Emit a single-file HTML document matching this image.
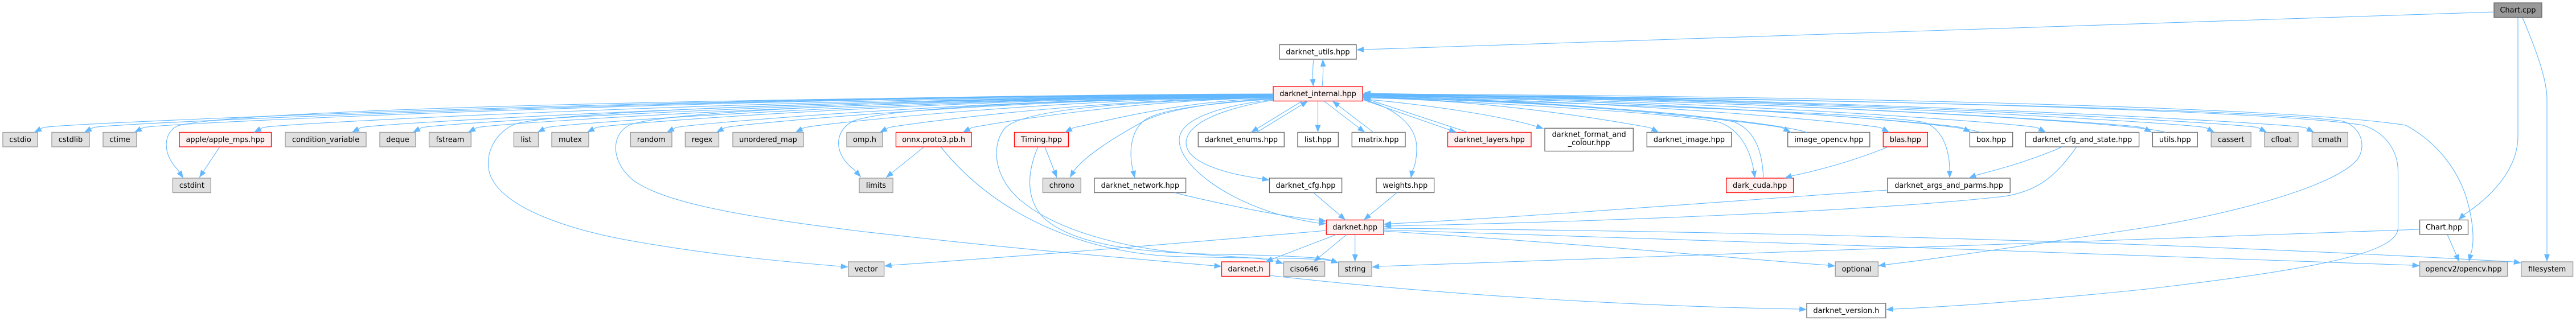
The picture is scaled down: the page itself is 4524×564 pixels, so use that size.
<!DOCTYPE html>
<html>
<head>
<meta charset="utf-8">
<style>
html,body{margin:0;padding:0;background:#ffffff;width:4524px;height:564px;overflow:hidden}
svg{display:block}
.g{fill:#E0E0E0;stroke:#999999;stroke-width:1.3}
.w{fill:#FFFFFF;stroke:#666666;stroke-width:1.3}
.r{fill:#FFF0F0;stroke:#FF0000;stroke-width:1.3}
.c{fill:#999999;stroke:#666666;stroke-width:1.3}
text{font-family:"DejaVu Sans","Liberation Sans",sans-serif;font-size:12.9px;text-anchor:middle;fill:#000000}
.e path{fill:none;stroke:#63B8FF;stroke-width:1.1;marker-end:url(#ah)}
</style>
</head>
<body>
<svg width="4524" height="564" viewBox="0 0 4524 564" xmlns="http://www.w3.org/2000/svg">
<defs>
<marker id="ah" viewBox="0 0 13 10" refX="13" refY="5" markerWidth="13" markerHeight="10" orient="auto" markerUnits="userSpaceOnUse">
<path d="M0,0 L13,5 L0,10 z" fill="#63B8FF" stroke="none"/>
</marker>
</defs>
<rect x="0" y="0" width="4524" height="564" fill="#ffffff"/>

<!-- Nodes -->
<g>
<rect class="c" x="4380" y="5" width="84" height="25.5"/><text x="4422" y="22.05">Chart.cpp</text>
<rect class="w" x="2247" y="78.5" width="135" height="25.5"/><text x="2314.5" y="95.55">darknet_utils.hpp</text>
<rect class="r" x="2236" y="152" width="157" height="25.5"/><text x="2314.5" y="169.05">darknet_internal.hpp</text>

<rect class="g" x="5" y="232.5" width="61" height="25.5"/><text x="35.5" y="249.55">cstdio</text>
<rect class="g" x="91" y="232.5" width="66" height="25.5"/><text x="124" y="249.55">cstdlib</text>
<rect class="g" x="181" y="232.5" width="59" height="25.5"/><text x="210.5" y="249.55">ctime</text>
<rect class="r" x="315" y="232.5" width="161.5" height="25.5"/><text x="395.75" y="249.55">apple/apple_mps.hpp</text>
<rect class="g" x="501" y="232.5" width="142" height="25.5"/><text x="572" y="249.55">condition_variable</text>
<rect class="g" x="667" y="232.5" width="63" height="25.5"/><text x="698.5" y="249.55">deque</text>
<rect class="g" x="753.6" y="232.5" width="73.7" height="25.5"/><text x="790.45" y="249.55">fstream</text>
<rect class="g" x="902.4" y="232.5" width="43.1" height="25.5"/><text x="923.95" y="249.55">list</text>
<rect class="g" x="969" y="232.5" width="65" height="25.5"/><text x="1001.5" y="249.55">mutex</text>
<rect class="g" x="1107.4" y="232.5" width="72.6" height="25.5"/><text x="1143.7" y="249.55">random</text>
<rect class="g" x="1203.4" y="232.5" width="59.1" height="25.5"/><text x="1232.95" y="249.55">regex</text>
<rect class="g" x="1287" y="232.5" width="124" height="25.5"/><text x="1349" y="249.55">unordered_map</text>
<rect class="g" x="1487" y="232.5" width="63" height="25.5"/><text x="1518.5" y="249.55">omp.h</text>
<rect class="r" x="1573.5" y="232.5" width="132.5" height="25.5"/><text x="1639.75" y="249.55">onnx.proto3.pb.h</text>
<rect class="r" x="1781.5" y="232.5" width="95" height="25.5"/><text x="1829" y="249.55">Timing.hpp</text>
<rect class="w" x="2104.3" y="232.5" width="151" height="25.5"/><text x="2179.8" y="249.55">darknet_enums.hpp</text>
<rect class="w" x="2279" y="232.5" width="71.3" height="25.5"/><text x="2314.65" y="249.55">list.hpp</text>
<rect class="w" x="2374.3" y="232.5" width="93.7" height="25.5"/><text x="2421.15" y="249.55">matrix.hpp</text>
<rect class="r" x="2542.5" y="232.5" width="146.5" height="25.5"/><text x="2615.75" y="249.55">darknet_layers.hpp</text>
<rect class="w" x="2713" y="225.3" width="155.3" height="40.2"/><text x="2790.65" y="240.7">darknet_format_and</text><text x="2790.65" y="255.2">_colour.hpp</text>
<rect class="w" x="2892.3" y="232.5" width="148.4" height="25.5"/><text x="2966.5" y="249.55">darknet_image.hpp</text>
<rect class="w" x="3139.7" y="232.5" width="144.1" height="25.5"/><text x="3211.75" y="249.55">image_opencv.hpp</text>
<rect class="r" x="3307.3" y="232.5" width="78" height="25.5"/><text x="3346.3" y="249.55">blas.hpp</text>
<rect class="w" x="3459.4" y="232.5" width="75.3" height="25.5"/><text x="3497.05" y="249.55">box.hpp</text>
<rect class="w" x="3557.4" y="232.5" width="199.2" height="25.5"/><text x="3657" y="249.55">darknet_cfg_and_state.hpp</text>
<rect class="w" x="3780.4" y="232.5" width="78.8" height="25.5"/><text x="3819.8" y="249.55">utils.hpp</text>
<rect class="g" x="3883.3" y="232.5" width="69.9" height="25.5"/><text x="3918.25" y="249.55">cassert</text>
<rect class="g" x="3977" y="232.5" width="59" height="25.5"/><text x="4006.5" y="249.55">cfloat</text>
<rect class="g" x="4060.4" y="232.5" width="62.9" height="25.5"/><text x="4091.85" y="249.55">cmath</text>

<rect class="g" x="303.4" y="313" width="66.9" height="25.5"/><text x="336.85" y="330.05">cstdint</text>
<rect class="g" x="1509" y="313" width="59.2" height="25.5"/><text x="1538.6" y="330.05">limits</text>
<rect class="g" x="1831.4" y="313" width="66.9" height="25.5"/><text x="1864.85" y="330.05">chrono</text>
<rect class="w" x="1922" y="313" width="160.6" height="25.5"/><text x="2002.3" y="330.05">darknet_network.hpp</text>
<rect class="w" x="2229.5" y="313" width="127.1" height="25.5"/><text x="2293.05" y="330.05">darknet_cfg.hpp</text>
<rect class="w" x="2417" y="313" width="101.6" height="25.5"/><text x="2467.8" y="330.05">weights.hpp</text>
<rect class="r" x="3031.7" y="313" width="117.9" height="25.5"/><text x="3090.65" y="330.05">dark_cuda.hpp</text>
<rect class="w" x="3314.8" y="313" width="215.4" height="25.5"/><text x="3422.5" y="330.05">darknet_args_and_parms.hpp</text>

<rect class="r" x="2329.3" y="386.5" width="100.8" height="25.5"/><text x="2379.7" y="403.55">darknet.hpp</text>
<rect class="w" x="4249.6" y="386.5" width="84.9" height="25.5"/><text x="4292.05" y="403.55">Chart.hpp</text>

<rect class="g" x="1489.7" y="460" width="63" height="25.5"/><text x="1521.2" y="477.05">vector</text>
<rect class="r" x="2145.5" y="460" width="84.4" height="25.5"/><text x="2187.7" y="477.05">darknet.h</text>
<rect class="g" x="2254.4" y="460" width="72.2" height="25.5"/><text x="2290.5" y="477.05">ciso646</text>
<rect class="g" x="2350.6" y="460" width="58.5" height="25.5"/><text x="2379.85" y="477.05">string</text>
<rect class="g" x="3223.2" y="460" width="75.2" height="25.5"/><text x="3260.8" y="477.05">optional</text>
<rect class="g" x="4249.6" y="460" width="154" height="25.5"/><text x="4326.6" y="477.05">opencv2/opencv.hpp</text>
<rect class="g" x="4427.8" y="460" width="90.8" height="25.5"/><text x="4473.2" y="477.05">filesystem</text>

<rect class="w" x="3173" y="533" width="138.8" height="25.5"/><text x="3242.4" y="550.05">darknet_version.h</text>
</g>

<!-- Edges -->
<g class="e">
<!-- left fan -->
<path d="M2236,165 C1257,168 126,215 76,224 L60,232.5"/>
<path d="M2236,165.5 C1296,168.5 214,215 164,224 L148,232.5"/>
<path d="M2236,166 C1336,169 302,215 252,224 L236,232.5"/>
<path d="M2236,166.5 C1430,169.5 512,215 462,224 L446,232.5"/>
<path d="M2236,167 C1508,170 684,215 634,224 L618,232.5"/>
<path d="M2236,167.5 C1556,170.5 791,215 741,224 L725,232.5"/>
<path d="M2236,168 C1600,171 888,215 838,224 L822,232.5"/>
<path d="M2236,168.5 C1654,171.5 1010,215 960,224 L944,232.5"/>
<path d="M2236,169 C1694,172 1097,215 1047,224 L1031,232.5"/>
<path d="M2236,169.5 C1757,172.5 1237,215 1187,224 L1171,232.5"/>
<path d="M2236,170 C1796,173 1324,215 1274,224 L1258,232.5"/>
<path d="M2236,170.5 C1858,173.5 1463,215 1413,224 L1397,232.5"/>
<path d="M2236,171 C1925,174 1611,215 1561,224 L1545,232.5"/>
<path d="M2236,172 C1991,175 1757,215 1707,224 L1691,232.5"/>
<path d="M2236,173 C2071,176 1936,215 1886,224 L1870,232.5"/>
<!-- special left curves -->
<path d="M2236,167 C1300,171 420,192 312,221 C288,232 283,268 312,298 L322,313"/>
<path d="M2236,169 C1400,175 960,200 905,218 C870,232 850,270 860,305 C880,365 1000,405 1120,425 C1250,448 1380,460 1476,468 L1489.7,469"/>
<path d="M2236,170 C1500,176 1150,200 1105,220 C1075,235 1070,280 1110,315 C1160,355 1300,380 1500,405 C1800,440 2000,455 2132,467 L2145.5,468"/>
<path d="M2236,170 C1800,176 1560,192 1500,212 C1465,228 1462,270 1500,298 L1512,311"/>
<path d="M2236,171 C1900,180 1790,200 1765,225 C1740,255 1745,310 1790,350 C1860,410 1990,440 2120,448 C2190,452 2225,455 2240,459 L2254,463"/>
<path d="M2236,173 C2120,180 2040,195 2005,215 C1960,240 1910,270 1886,300 L1879,312"/>
<path d="M2236,174 C2120,182 2040,192 2012,210 C1985,228 1982,270 1990,300 L1993,313"/>
<path d="M2236,176 C2150,190 2085,215 2083,250 C2082,285 2150,305 2216,314 L2229.5,316.5"/>
<path d="M2236,175 C2140,186 2072,210 2071,245 C2070,290 2150,350 2250,378 C2280,386 2300,390 2316,392 L2329.3,393"/>
<!-- around internal -->
<path d="M2287,177.5 L2197,232.5"/>
<path d="M2207,232.5 L2297,177.5"/>
<path d="M2314.5,177.5 L2314.5,232.5"/>
<path d="M2325,177.5 L2397,232.5"/>
<path d="M2412,232.5 L2340,177.5"/>
<path d="M2307,104 C2305,120 2305,135 2306.5,152"/>
<path d="M2322,152 C2324,135 2324,120 2323,104"/>
<!-- Chart.cpp -->
<path d="M4380,21 L2382,87.5"/>
<path d="M4422,31 L4422,240 C4422,300 4370,350 4326,378 L4317.7,386.5"/>
<path d="M4430,31 C4455,90 4473,140 4473,175 L4473,459.7"/>
<!-- Chart.hpp -->
<path d="M4298,412 L4319,460"/>
<path d="M4249.6,403 C3700,418 3100,445 2423,468 L2409.1,469.4"/>
<!-- darknet.hpp outgoing right -->
<path d="M2430,401 C3000,406 3700,420 4414,460 L4427.8,462"/>
<path d="M2430,404 C2990,420 3700,448 4236,466 L4249.6,467"/>
<path d="M2430,406 C2800,430 3000,450 3210,466 L3223.2,467.5"/>
<!-- into darknet.hpp from right -->
<path d="M3314.8,334 C3000,356 2700,380 2444,393 L2430.1,394"/>
<path d="M3647,258 C3610,310 3580,335 3520,345 C3300,370 2800,390 2444,397 L2430.1,398"/>
<!-- darknet.h -> version -->
<path d="M2230,484 C2500,515 2850,538 3159,543 L3173,544"/>
<!-- darknet.hpp downward -->
<path d="M2347,412 L2222,460"/>
<path d="M2365,412 L2307,460"/>
<path d="M2379.7,412 L2379.7,460"/>
<path d="M2329.3,405 C2100,425 1800,450 1566,466 L1552.7,467.5"/>
<path d="M2307,338.7 L2363,386.5"/>
<path d="M2453,338.7 L2395,386.5"/>
<path d="M2063,338.7 C2150,360 2250,380 2316,387 L2329.3,388.5"/>
<path d="M2395,175 C2450,190 2488,220 2488,260 C2488,280 2484,296 2480,300 L2478,313"/>
<!-- onnx / Timing / apple -->
<path d="M1623,258 L1556,312"/>
<path d="M1652,258 C1750,380 1900,440 2050,450 C2200,455 2300,452 2338,458 L2350.6,462"/>
<path d="M1835,258 L1856,312"/>
<path d="M1823,258 C1805,300 1800,345 1830,380 C1880,430 2000,445 2150,447 C2260,449 2320,452 2337,457 L2350.6,462"/>
<path d="M386,258 L350,312"/>
<!-- blas / cfg_and_state -->
<path d="M3316,258 C3250,285 3190,300 3147,309 L3134,313"/>
<path d="M3622,258 C3560,285 3500,300 3470,308 L3457.5,313"/>
<!-- right fan -->
<path d="M2393,175 L2558,232.5"/>
<path d="M2578,232.5 L2394,172"/>
<path d="M2393,174 C2520,185 2640,205 2698,222 L2711,226"/>
<path d="M2393,172 C2627,175 2847,215 2897,224 L2913,232.5"/>
<path d="M2393,171 C2731,174 3079,215 3129,224 L3145,232.5"/>
<path d="M2393,170 C2809,173 3252,215 3302,224 L3318,232.5"/>
<path d="M2393,169 C2874,172 3395,215 3445,224 L3461,232.5"/>
<path d="M2393,168.5 C2933,171.5 3527,215 3577,224 L3593,232.5"/>
<path d="M2393,168 C3017,171 3713,215 3763,224 L3779,232.5"/>
<path d="M2393,167 C3066,170 3823,215 3873,224 L3889,232.5"/>
<path d="M2393,166.5 C3108,169.5 3915,215 3965,224 L3981,232.5"/>
<path d="M2393,166 C3145,169 3998,215 4048,224 L4064,232.5"/>
<path d="M3173,232.5 C3120,215 2800,180 2408,168 L2394,167.5"/>
<path d="M3478,232.5 C3420,212 2900,178 2408,166 L2394,165.5"/>
<path d="M3803,232.5 C3740,212 3000,175 2408,164 L2394,163.5"/>
<path d="M2393,170 C2700,185 2950,200 3020,215 C3060,230 3075,270 3080,300 L3082,313"/>
<path d="M3097,313 C3095,270 3085,230 3045,214 C2950,195 2700,180 2408,171 L2394,170.5"/>
<path d="M2393,170 C2900,185 3300,200 3380,215 C3415,228 3424,270 3424,300 L3424,313"/>
<path d="M2393,167 C3100,172 3950,190 4115,213 C4150,225 4155,260 4140,280 C4100,330 3900,380 3760,401 C3600,425 3400,455 3312,465 L3298.4,467"/>
<path d="M2393,166 C3100,170 3980,192 4150,220 C4195,235 4211,270 4211.5,300 L4211.5,400 C4211.5,440 4100,470 3760,509 C3600,525 3450,538 3326,543 L3311.8,544"/>
<path d="M2393,165 C3100,168 4000,185 4225,220 C4280,250 4320,300 4335,360 C4345,400 4345,430 4339,447 L4336,460"/>
</g>
</svg>
</body>
</html>
